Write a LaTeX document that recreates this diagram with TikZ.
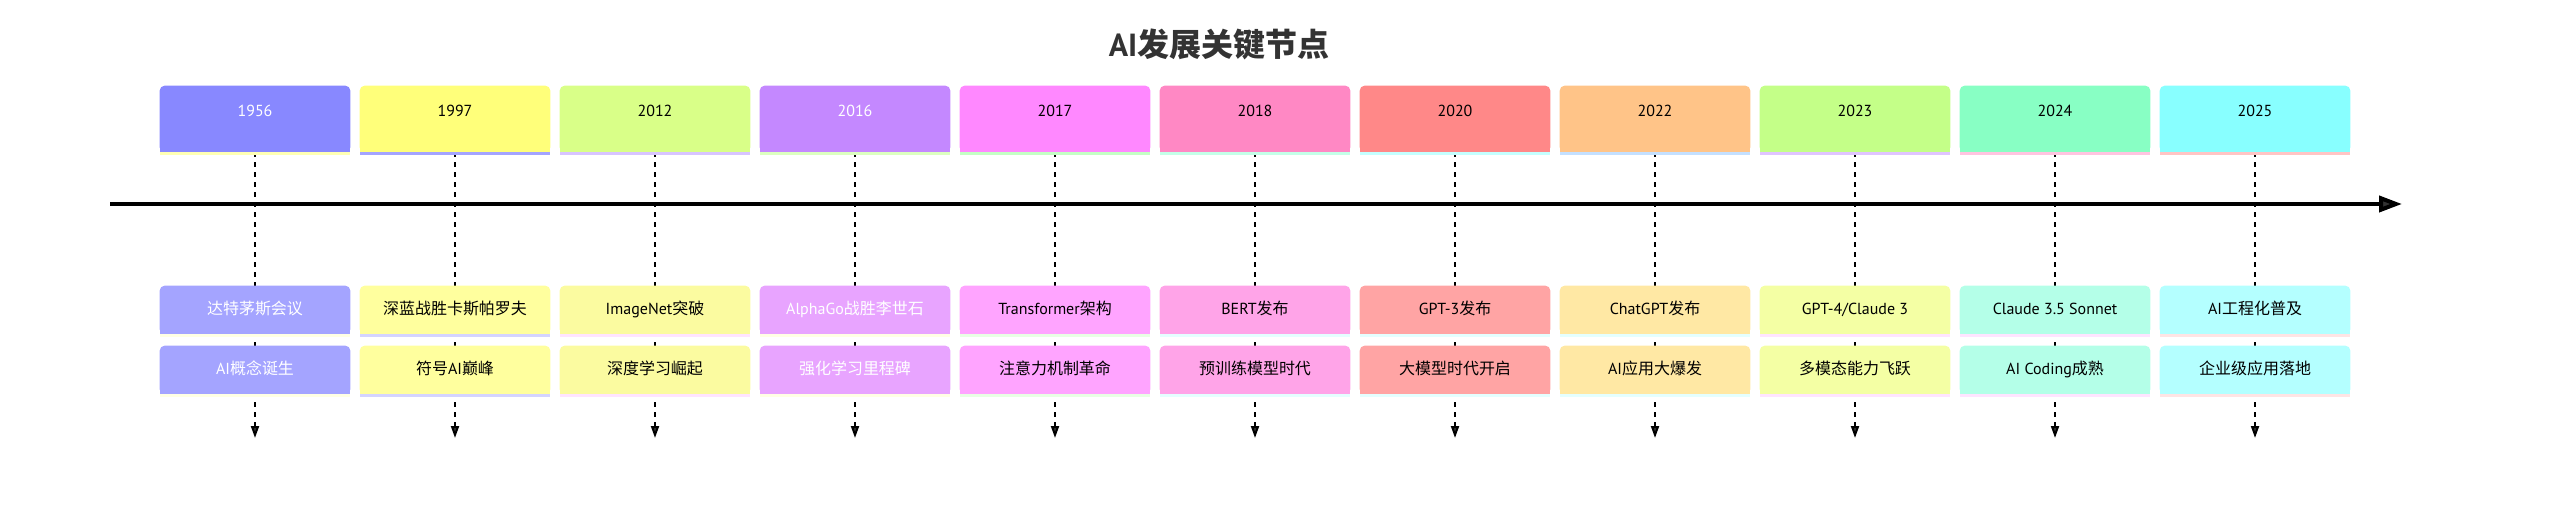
\documentclass[tikz,border=0pt]{standalone}
\usepackage{fontspec}
\setmainfont{PT Sans}
\newfontfamily\cjk{Noto Sans CJK SC}
\newcommand{\zh}[1]{{\cjk #1}}
\usepackage{tikz}
\usetikzlibrary{arrows.meta,positioning,backgrounds}
\pgfdeclarelayer{behind}
\pgfsetlayers{behind,background,main}

\definecolor{ink}{HTML}{333333}
% year boxes
\definecolor{ya}{HTML}{8888FF}\definecolor{yb}{HTML}{FFFF7A}\definecolor{yc}{HTML}{D9FF88}
\definecolor{yd}{HTML}{C488FF}\definecolor{ye}{HTML}{FF88FF}\definecolor{yf}{HTML}{FF88C4}
\definecolor{yg}{HTML}{FF8888}\definecolor{yh}{HTML}{FFC488}\definecolor{yi}{HTML}{C4FF88}
\definecolor{yj}{HTML}{88FFC4}\definecolor{yk}{HTML}{88FFFF}
% event boxes
\definecolor{ea}{HTML}{A4A4FF}\definecolor{eb}{HTML}{FFFF9E}\definecolor{ec}{HTML}{FBFBA0}
\definecolor{ed}{HTML}{E8A4FF}\definecolor{ee}{HTML}{FFA4FF}\definecolor{ef}{HTML}{FFA4E8}
\definecolor{eg}{HTML}{FFA4A4}\definecolor{eh}{HTML}{FFE8A4}\definecolor{ei}{HTML}{F4FFA4}
\definecolor{ej}{HTML}{B4FFE8}\definecolor{ek}{HTML}{B4FFFF}
% strips under year boxes
\definecolor{sa}{HTML}{FFFFB4}\definecolor{sb}{HTML}{A4A4FF}\definecolor{sc}{HTML}{D8C4FF}
\definecolor{sd}{HTML}{DCFFC0}\definecolor{se}{HTML}{C4FFC4}\definecolor{sf}{HTML}{C4FFE8}
\definecolor{sg}{HTML}{C4FFFF}\definecolor{sh}{HTML}{C4E0FF}\definecolor{si}{HTML}{E0C4FF}
\definecolor{sj}{HTML}{FFC4E0}\definecolor{sk}{HTML}{FFC4C4}
% strips under event boxes
\definecolor{fa}{HTML}{FFFFE4}\definecolor{fb}{HTML}{D4D4FF}\definecolor{fc}{HTML}{FFE4FF}
\definecolor{fd}{HTML}{FFFFE4}\definecolor{fe}{HTML}{E8FFE4}\definecolor{ff}{HTML}{E4FFFF}
\definecolor{fg}{HTML}{E4FFFF}\definecolor{fh}{HTML}{E4FFFF}\definecolor{fi}{HTML}{FFE4FF}
\definecolor{fj}{HTML}{FFE4FF}\definecolor{fk}{HTML}{FFE4E4}

\begin{document}
\begin{tikzpicture}[x=0.02cm, y=-0.02cm,
    card/.style n args={3}{inner sep=0pt, minimum width=3.8cm, text=#3, font=\fontsize{9.1}{11}\selectfont,
      append after command={\pgfextra{\begin{pgfonlayer}{background}
        \fill[#1, rounded corners=0.1cm] (\tikzlastnode.south west) rectangle (\tikzlastnode.north east);
        \fill[#1] (\tikzlastnode.south west) rectangle (\tikzlastnode.east);
        \fill[#2] (\tikzlastnode.south west) rectangle ([yshift=-0.06cm]\tikzlastnode.south east);
      \end{pgfonlayer}}}},
    yr/.style n args={3}{card={#1}{#2}{#3}, minimum height=1.32cm, text height=0.2cm, text depth=0.28cm},
    ev/.style n args={3}{card={#1}{#2}{#3}, minimum height=0.96cm, text height=0.26cm, text depth=0.06cm},
    vline/.style={densely dashed, dash pattern=on 0.1cm off 0.1cm, line width=0.04cm, -{Triangle[length=0.24cm, width=0.16cm, fill=ink]}},
    axis/.style={line width=0.08cm, -{Triangle[length=0.46cm, width=0.32cm, fill=ink]}},
    ttl/.style={text=ink, font=\fontsize{18.2}{22}\selectfont\bfseries}
]
\useasboundingbox (0,0) rectangle (2564,516);

\node[ttl] (title) at (1219,44) {AI{\cjk\bfseries 发展关键节点}};

% years
\node[yr={ya}{sa}{white}] (y1956) at (255,119) {1956};
\node[yr={yb}{sb}{black}] (y1997) at (455,119) {1997};
\node[yr={yc}{sc}{black}] (y2012) at (655,119) {2012};
\node[yr={yd}{sd}{white}] (y2016) at (855,119) {2016};
\node[yr={ye}{se}{black}] (y2017) at (1055,119) {2017};
\node[yr={yf}{sf}{black}] (y2018) at (1255,119) {2018};
\node[yr={yg}{sg}{black}] (y2020) at (1455,119) {2020};
\node[yr={yh}{sh}{black}] (y2022) at (1655,119) {2022};
\node[yr={yi}{si}{black}] (y2023) at (1855,119) {2023};
\node[yr={yj}{sj}{black}] (y2024) at (2055,119) {2024};
\node[yr={yk}{sk}{black}] (y2025) at (2255,119) {2025};

% events
\node[ev={ea}{fa}{white}] (e1956a) at (255,310) {\zh{达特茅斯会议}};
\node[ev={ea}{fa}{white}] (e1956b) at (255,370) {AI\zh{概念诞生}};
\node[ev={eb}{fb}{black}] (e1997a) at (455,310) {\zh{深蓝战胜卡斯帕罗夫}};
\node[ev={eb}{fb}{black}] (e1997b) at (455,370) {\zh{符号}AI\zh{巅峰}};
\node[ev={ec}{fc}{black}] (e2012a) at (655,310) {ImageNet\zh{突破}};
\node[ev={ec}{fc}{black}] (e2012b) at (655,370) {\zh{深度学习崛起}};
\node[ev={ed}{fd}{white}] (e2016a) at (855,310) {AlphaGo\zh{战胜李世石}};
\node[ev={ed}{fd}{white}] (e2016b) at (855,370) {\zh{强化学习里程碑}};
\node[ev={ee}{fe}{black}] (e2017a) at (1055,310) {Transformer\zh{架构}};
\node[ev={ee}{fe}{black}] (e2017b) at (1055,370) {\zh{注意力机制革命}};
\node[ev={ef}{ff}{black}] (e2018a) at (1255,310) {BERT\zh{发布}};
\node[ev={ef}{ff}{black}] (e2018b) at (1255,370) {\zh{预训练模型时代}};
\node[ev={eg}{fg}{black}] (e2020a) at (1455,310) {GPT-3\zh{发布}};
\node[ev={eg}{fg}{black}] (e2020b) at (1455,370) {\zh{大模型时代开启}};
\node[ev={eh}{fh}{black}] (e2022a) at (1655,310) {ChatGPT\zh{发布}};
\node[ev={eh}{fh}{black}] (e2022b) at (1655,370) {AI\zh{应用大爆发}};
\node[ev={ei}{fi}{black}] (e2023a) at (1855,310) {GPT-4/Claude 3};
\node[ev={ei}{fi}{black}] (e2023b) at (1855,370) {\zh{多模态能力飞跃}};
\node[ev={ej}{fj}{black}] (e2024a) at (2055,310) {Claude 3.5 Sonnet};
\node[ev={ej}{fj}{black}] (e2024b) at (2055,370) {AI Coding\zh{成熟}};
\node[ev={ek}{fk}{black}] (e2025a) at (2255,310) {AI\zh{工程化普及}};
\node[ev={ek}{fk}{black}] (e2025b) at (2255,370) {\zh{企业级应用落地}};

% ends of the dashed drops and of the axis
\coordinate (t1956) at (255,438);
\coordinate (t1997) at (455,438);
\coordinate (t2012) at (655,438);
\coordinate (t2016) at (855,438);
\coordinate (t2017) at (1055,438);
\coordinate (t2018) at (1255,438);
\coordinate (t2020) at (1455,438);
\coordinate (t2022) at (1655,438);
\coordinate (t2023) at (1855,438);
\coordinate (t2024) at (2055,438);
\coordinate (t2025) at (2255,438);
\coordinate (ax0) at (110,204);
\coordinate (ax1) at (2402,204);

\begin{pgfonlayer}{behind}
\draw[vline] (y1956) -- (t1956);
\draw[vline] (y1997) -- (t1997);
\draw[vline] (y2012) -- (t2012);
\draw[vline] (y2016) -- (t2016);
\draw[vline] (y2017) -- (t2017);
\draw[vline] (y2018) -- (t2018);
\draw[vline] (y2020) -- (t2020);
\draw[vline] (y2022) -- (t2022);
\draw[vline] (y2023) -- (t2023);
\draw[vline] (y2024) -- (t2024);
\draw[vline] (y2025) -- (t2025);
\end{pgfonlayer}

\draw[axis] (ax0) -- (ax1);
\end{tikzpicture}
\end{document}
